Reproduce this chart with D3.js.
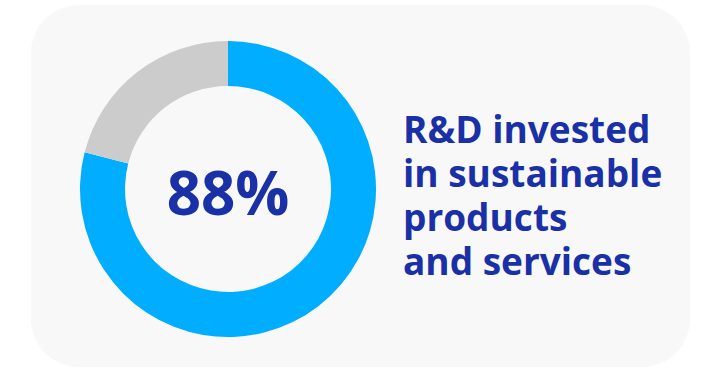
<!DOCTYPE html>
<html>
<head>
<meta charset="utf-8">
<script src="https://cdn.jsdelivr.net/npm/d3@7"></script>
<style>
  body { margin: 0; background: #ffffff; }
  svg { display: block; }
</style>
</head>
<body>
<div id="graphique"></div>
<script>
// parts of the ring
let categories = ["sustainable", "other"];
let valeurs = [79, 21];
let couleurs = ["#00adff", "#cccccc"];
let labelCentre = "88%";
let lignesTexte = ["R&D invested", "in sustainable", "products", "and services"];

let largeur = 708, hauteur = 369;

let monSVG = d3.select("#graphique").append("svg")
    .attr("width", largeur)
    .attr("height", hauteur);

// fond arrondi
monSVG.append("rect")
    .attr("x", 31).attr("y", 5)
    .attr("width", 659).attr("height", 362)
    .attr("rx", 48).attr("ry", 48)
    .attr("fill", "#f8f8f8");

let cx = 228, cy = 189;

let datas = categories.map((c, i) => ({ cat: c, valeur: valeurs[i] }));

let pie = d3.pie().sort(null).value(d => d.valeur);
let arc = d3.arc().innerRadius(103).outerRadius(148);

let donut = monSVG.append("g").attr("transform", "translate(" + cx + "," + cy + ")");

donut.selectAll("path")
    .data(pie(datas))
    .enter().append("path")
    .attr("d", arc)
    .attr("fill", (d, i) => couleurs[i]);

donut.append("text")
    .text(labelCentre)
    .attr("text-anchor", "middle")
    .attr("y", 26)
    .attr("font-family", "'Open Sans', 'Noto Sans', sans-serif")
    .attr("font-weight", 700)
    .attr("font-size", 60)
    .attr("fill", "#1a30a6");

let bloc = monSVG.append("text")
    .attr("font-family", "'Open Sans', 'Noto Sans', sans-serif")
    .attr("font-weight", 700)
    .attr("font-size", 37)
    .attr("fill", "#1a30a6");

bloc.selectAll("tspan")
    .data(lignesTexte)
    .enter().append("tspan")
    .attr("x", 403)
    .attr("y", (d, i) => 143 + i * 44)
    .text(d => d);
</script>
</body>
</html>
